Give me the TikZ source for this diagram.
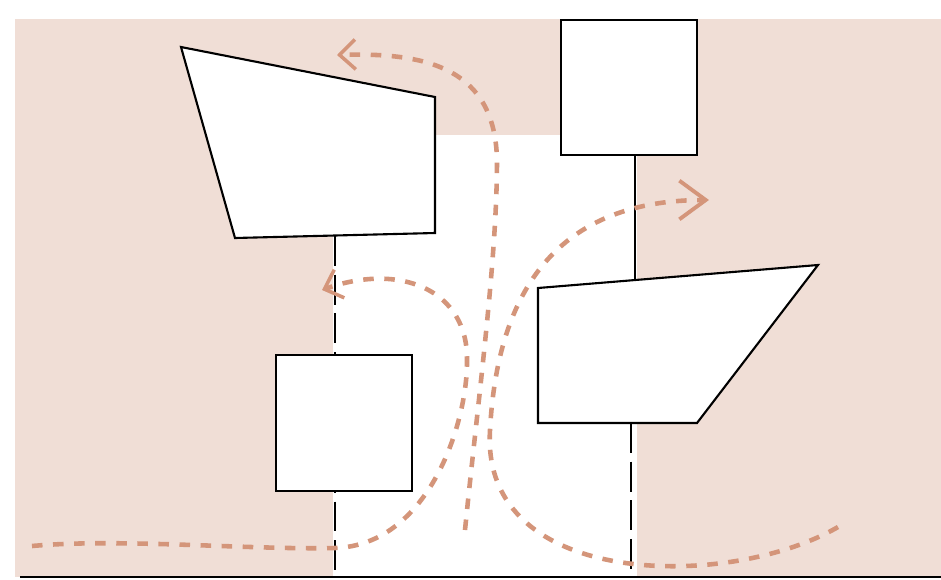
\documentclass[tikz,border=0pt]{standalone}
\usepackage{tikz}
\usetikzlibrary{arrows.meta}
\definecolor{zonepink}{HTML}{F0DED6}
\definecolor{flowline}{HTML}{D4957A}

\begin{document}
\begin{tikzpicture}[x=0.02cm,y=-0.02cm,
            wall/.style={draw=black,line width=1.2pt,fill=white,line join=miter},
            room/.style={wall,minimum width=2.72cm,minimum height=2.7cm,anchor=north west,outer sep=0pt},
            partition/.style={draw=black,line width=1.2pt,dash pattern=on 17pt off 5pt},
            flow/.style={draw=flowline,line width=2.6pt,dash pattern=on 6pt off 6pt},
            flowtip/.style={-{Straight Barb[length=9pt,width=17pt,line width=2pt]}},
            bigtip/.style={-{Straight Barb[length=15pt,width=22pt,line width=2.2pt]}}]
            \useasboundingbox (0,0) rectangle (941,579);
            \fill[zonepink] (15,19) rectangle (941,577);
            \fill[white] (333,135) rectangle (637,577);
            \coordinate (lineL) at (335,0);
            \coordinate (lineR) at (635,0);
            \coordinate (lineRb) at (631,0);
            \coordinate (floorL) at (20,577);
            \coordinate (floorR) at (941,577);
            \coordinate (hallA1) at (181,47);
            \coordinate (hallA2) at (435,97);
            \coordinate (hallA3) at (435,233);
            \coordinate (hallA4) at (235,238);
            \coordinate (hallB1) at (538,288);
            \coordinate (hallB2) at (818,265);
            \coordinate (hallB3) at (697,423);
            \coordinate (hallB4) at (538,423);
            \node[room] (roomtop) at (561,20) {};
            \node[room,minimum height=2.72cm] (roomlow) at (276,355) {};
            \draw[partition] (lineL |- 0,236) -- (roomlow.north -| lineL);
            \draw[partition,dash phase=-6pt] (roomlow.south -| lineL) -- (floorL -| lineL);
            \draw[wall] (roomtop.south -| lineR) -- (lineR |- 0,282);
            \draw[partition] (lineRb |- hallB4) -- (floorL -| lineRb);
            \draw[wall] (hallA1) -- (hallA2) -- (hallA3) -- (hallA4) -- cycle;
            \draw[wall] (hallB1) -- (hallB2) -- (hallB3) -- (hallB4) -- cycle;
            \draw[line width=1.2pt] (floorL) -- (floorR);
            \draw[flow,flowtip] (465,530) .. controls (478,400) and (497,260) .. (497,160) .. controls (495,70) and (430,52) .. (337,55);
            \draw[flow,flowtip] (32,546) .. controls (120,538) and (250,550) .. (335,548) .. controls (430,545) and (468,420) .. (467,360) .. controls (468,290) and (400,262) .. (322,290);
            \draw[flow,bigtip] (838,527) .. controls (730,590) and (480,590) .. (490,430) .. controls (497,300) and (550,200) .. (709,200);
            \end{tikzpicture}
\end{document}
